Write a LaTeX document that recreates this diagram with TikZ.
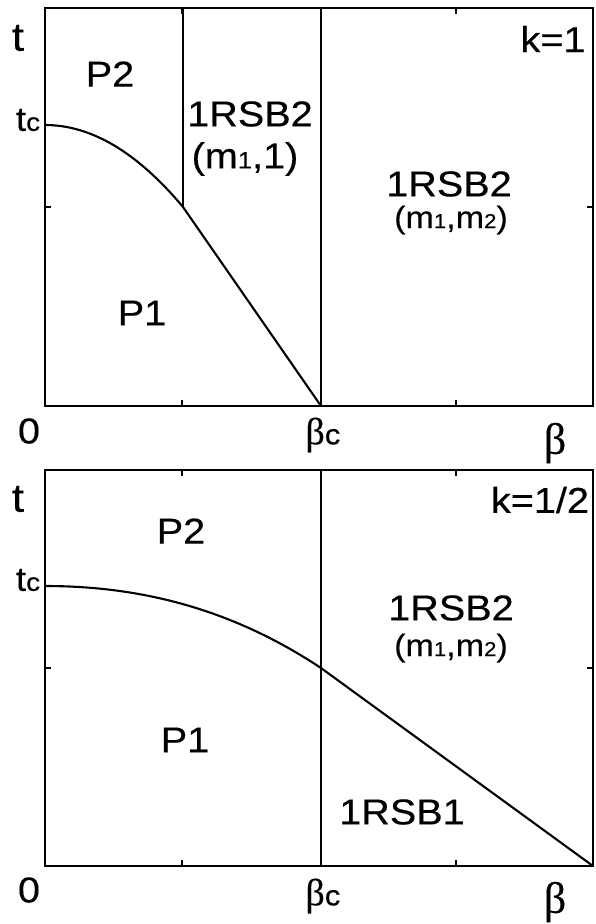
\documentclass[tikz,border=0pt]{standalone}
\usepackage{fontspec}
\setmainfont{Liberation Sans}[FakeStretch=1.1, FakeBold=0.35]
\newfontfamily\greekfont{Liberation Serif}[FakeBold=0.35]
\usetikzlibrary{positioning}
\newcommand{\lo}[1]{\scalebox{0.65}{#1}}
\newcommand{\crit}[1]{\scalebox{0.75}{#1}}

\begin{document}
\begin{tikzpicture}[
    x=1pt, y=-1pt,
    frame/.style={line width=2pt},
    tick/.style={line width=1.5pt},
    phase/.style={line width=1.4pt},
    curve/.style={line width=2.1pt},
    big/.style={inner sep=0pt, font=\fontsize{36}{36}\selectfont},
    paren/.style={inner sep=0pt, font=\fontsize{31}{31}\selectfont},
    axis/.style={inner sep=0pt, font=\fontsize{40}{40}\selectfont}
]
    \useasboundingbox (0,0) rectangle (595,924);

    % upper panel, k=1
    \draw[frame] (45,8) rectangle (593,406);
    \foreach \x in {182,456} {
        \draw[tick] (\x,406) -- ++(0,-6);
        \draw[tick] (\x,8) -- ++(0,6);
    }
    \draw[tick] (45,207) -- ++(6,0);
    \draw[tick] (593,207) -- ++(-6,0);
    \coordinate (tcA) at (45,125);
    \coordinate (kinkA) at (183,207);
    \coordinate (bcA) at (321,406);
    \draw[curve] (tcA) .. controls (91,125) and (137,152) .. (kinkA) -- (bcA);
    \draw[phase] (183,8) -- (kinkA);
    \draw[phase] (321,8) -- (bcA);

    \node[axis] (tlabA) at (18,38) {t};
    \node[inner sep=0pt, font=\fontsize{34}{34}\selectfont] (tcnA) at (28,120) {t\crit{c}};
    \node[big] (kA) at (553,39) {k=1};
    \node[big] (ptwoA) at (110,74) {P2};
    \node[big] (rsbA) at (250,114) {1RSB2};
    \node[big] (mA) at (245,159) {(m\lo{1},1)};
    \node[big] (rsbB) at (449,184) {1RSB2};
    \node[paren] (mB) at (451,220) {(m\lo{1},m\lo{2})};
    \node[big] (poneA) at (142,313) {P1};
    \node[big] (zeroA) at (29,431) {0};
    \node[inner sep=0pt, font=\fontsize{38}{38}\selectfont] (bcnA) at (323,435) {{\greekfont β}\crit{c}};
    \node[inner sep=0pt, font=\fontsize{44}{44}\greekfont] (betaA) at (555,443) {β};

    % lower panel, k=1/2
    \draw[frame] (45,470) rectangle (593,866);
    \foreach \x in {182,456} {
        \draw[tick] (\x,866) -- ++(0,-6);
        \draw[tick] (\x,470) -- ++(0,6);
    }
    \draw[tick] (45,668) -- ++(6,0);
    \draw[tick] (593,668) -- ++(-6,0);
    \coordinate (tcB) at (45,586);
    \coordinate (midB) at (321,668);
    \coordinate (endB) at (593,866);
    \draw[curve] (tcB) .. controls (137,586) and (229,607) .. (midB) -- (endB);
    \draw[phase] (321,470) -- (321,866);

    \node[axis] (tlabB) at (18,499) {t};
    \node[inner sep=0pt, font=\fontsize{34}{34}\selectfont] (tcnB) at (28,580) {t\crit{c}};
    \node[big] (kB) at (540,500) {k=1/2};
    \node[big] (ptwoB) at (181,531) {P2};
    \node[big] (rsbC) at (451,608) {1RSB2};
    \node[paren] (mC) at (451,648) {(m\lo{1},m\lo{2})};
    \node[big] (poneB) at (185,740) {P1};
    \node[big] (rsbD) at (402,812) {1RSB1};
    \node[big] (zeroB) at (29,890) {0};
    \node[inner sep=0pt, font=\fontsize{38}{38}\selectfont] (bcnB) at (323,896) {{\greekfont β}\crit{c}};
    \node[inner sep=0pt, font=\fontsize{44}{44}\greekfont] (betaB) at (555,902) {β};
\end{tikzpicture}
\end{document}
